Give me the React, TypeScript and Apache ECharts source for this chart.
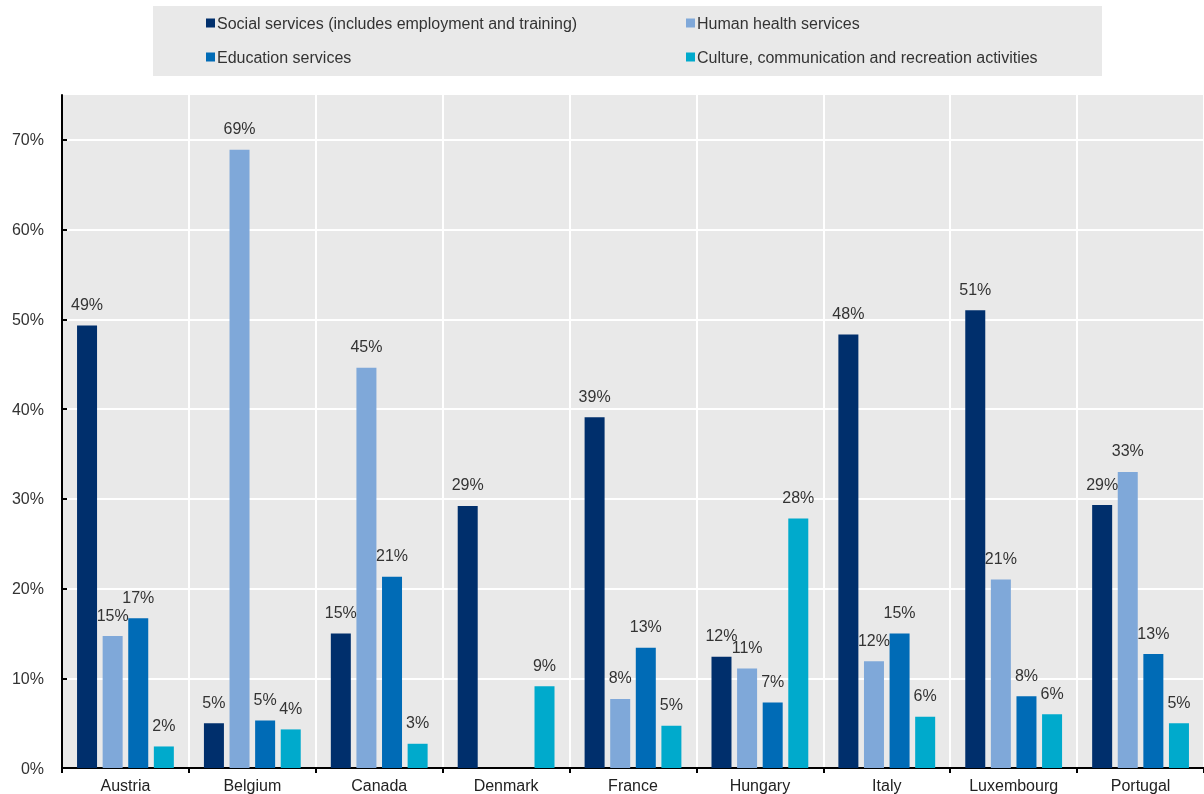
import React, { useEffect, useRef } from "react";
import * as echarts from "echarts";

const categories = ["Austria", "Belgium", "Canada", "Denmark", "France", "Hungary", "Italy", "Luxembourg", "Portugal"];
const seriesNames = [
  "Social services (includes employment and training)",
  "Human health services",
  "Education services",
  "Culture, communication and recreation activities",
];
const social = [49.3, 5.0, 15.0, 29.2, 39.1, 12.4, 48.3, 51.0, 29.3];
const health = [14.7, 68.9, 44.6, null, 7.7, 11.1, 11.9, 21.0, 33.0];
const education = [16.7, 5.3, 21.3, null, 13.4, 7.3, 15.0, 8.0, 12.7];
const culture = [2.4, 4.3, 2.7, 9.1, 4.7, 27.8, 5.7, 6.0, 5.0];
const colors = ["#002F6C", "#7FA8D9", "#006BB6", "#00AACC"];
const yTicks = [0, 10, 20, 30, 40, 50, 60, 70];

const FONT = "'Liberation Sans', Arial, sans-serif";

export default function App() {
  const ref = useRef<HTMLDivElement>(null);
  useEffect(() => {
    if (!ref.current) return;
    const chart = echarts.init(ref.current, null, { renderer: "svg" });
    const values = [social, health, education, culture];
    const legendText = { fontSize: 16, color: "#333", fontFamily: FONT, padding: [0, 0, 0, -3] };
    chart.setOption({
      animation: false,
      textStyle: { fontFamily: FONT },
      graphic: [
        { type: "rect", left: 153, top: 6, shape: { width: 949, height: 70 }, style: { fill: "#e9e9e9" }, z: -1 },
      ],
      legend: [
        {
          data: [seriesNames[0], seriesNames[2]],
          orient: "vertical",
          left: 201,
          top: 10,
          itemWidth: 9,
          itemHeight: 9,
          itemGap: 18,
          icon: "rect",
          textStyle: legendText,
        },
        {
          data: [seriesNames[1], seriesNames[3]],
          orient: "vertical",
          left: 681,
          top: 10,
          itemWidth: 9,
          itemHeight: 9,
          itemGap: 18,
          icon: "rect",
          textStyle: legendText,
        },
      ],
      grid: {
        left: 62,
        right: 0,
        top: 95,
        bottom: 26,
        show: true,
        backgroundColor: "#e9e9e9",
        borderWidth: 0,
      },
      xAxis: {
        type: "category",
        data: categories,
        axisLine: { lineStyle: { color: "#000", width: 2 } },
        axisTick: { show: true, inside: false, length: 5, lineStyle: { color: "#000", width: 2 } },
        axisLabel: { fontSize: 16, color: "#222", margin: 9, fontFamily: FONT },
        splitLine: { show: true, lineStyle: { color: "#fff", width: 2 } },
      },
      yAxis: {
        type: "value",
        min: 0,
        max: 75,
        interval: 10,
        axisLine: { show: true, lineStyle: { color: "#000", width: 2 } },
        axisTick: { show: true, inside: true, length: 5, customValues: yTicks, lineStyle: { color: "#000", width: 2 } },
        axisLabel: {
          fontSize: 16,
          color: "#333",
          margin: 18,
          fontFamily: FONT,
          customValues: yTicks,
          formatter: (v: number) => (yTicks.includes(v) ? v + "%" : ""),
        },
        splitLine: { show: true, lineStyle: { color: "#fff", width: 2 } },
      },
      series: values.map((d, i) => ({
        name: seriesNames[i],
        type: "bar",
        data: d,
        barWidth: 20,
        barGap: "28%",
        itemStyle: { color: colors[i] },
        label: {
          show: true,
          position: "top",
          distance: 13,
          fontSize: 16,
          color: "#333",
          fontFamily: FONT,
          formatter: (p: any) => (p.value == null ? "" : Math.round(p.value) + "%"),
        },
      })),
    });
    return () => chart.dispose();
  }, []);
  return <div ref={ref} style={{ position: "fixed", left: 0, top: 0, width: 1204, height: 794 }} />;
}
